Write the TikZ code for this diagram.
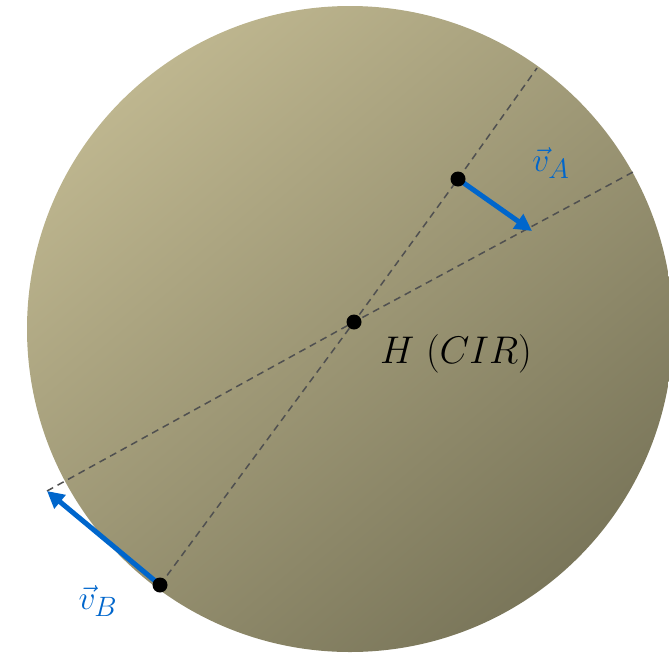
\documentclass[tikz,border=0pt]{standalone}
\usepackage{graphicx}
\usetikzlibrary{arrows.meta,backgrounds}
\definecolor{lightkh}{HTML}{BEB68F}
\definecolor{darkkh}{HTML}{7A765A}
\definecolor{vblue}{HTML}{0066CC}
\definecolor{dgray}{HTML}{505050}
\newcommand{\bigtxt}[2]{\scalebox{#1}{\Huge #2}}
\begin{document}
\begin{tikzpicture}[x=1pt,y=-1pt,
  dot/.style={circle,fill=black,inner sep=0pt,minimum size=15pt},
  guide/.style={dgray,line width=1.5pt,dash pattern=on 7pt off 5pt},
  vel/.style={vblue,line width=5pt,-{Triangle[length=17pt,width=17pt]}},
  vlabel/.style={text=vblue},
  hlabel/.style={}]
\useasboundingbox (0,0) rectangle (669,654);
\node[dot] (H) at (354,322) {};
\node[dot] (A) at (458,179) {};
\node[dot] (B) at (160,585) {};
\coordinate (L1) at (537,68);
\coordinate (L2a) at (633,172);
\coordinate (L2b) at (47,491);
\coordinate (VA) at (532,231);
\begin{scope}[on background layer]
\shade[top color=lightkh,bottom color=darkkh,shading angle=40] (350,329) circle (323);
\draw[guide] (B.center) -- (H.center) -- (A.center) -- (L1);
\draw[guide] (L2b) -- (H.center) -- (L2a);
\draw[vel] (A.center) -- (VA);
\draw[vel] (B.center) -- (L2b);
\end{scope}
\node[vlabel] (la) at (551,163) {\bigtxt{1.35}{$\vec{v}_A$}};
\node[vlabel] (lb) at (98,601) {\bigtxt{1.35}{$\vec{v}_B$}};
\node[hlabel] (lh) at (456,354) {\bigtxt{1.55}{$H\ (CIR)$}};
\end{tikzpicture}
\end{document}
